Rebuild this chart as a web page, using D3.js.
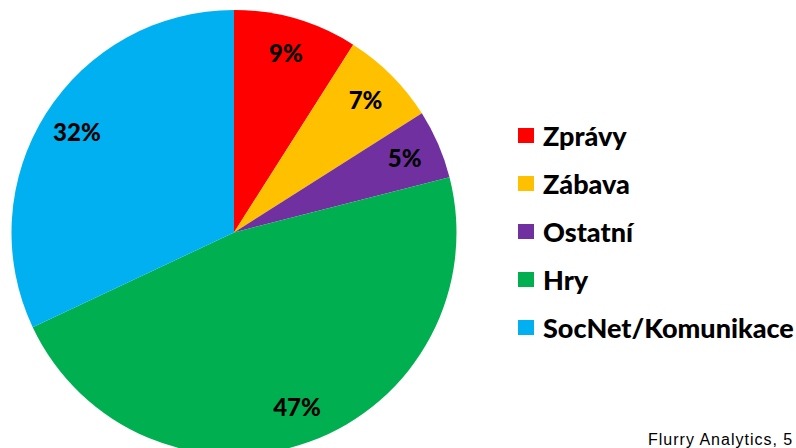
<!DOCTYPE html>
<meta charset="utf-8">
<title>Kategorie aplikací</title>
<style>
  body { margin: 0; background: #fff; }
  svg { display: block; }
</style>
<div id="viz"></div>
<script src="https://cdnjs.cloudflare.com/ajax/libs/d3/7.8.5/d3.min.js"></script>
<script>

var categories = ["Zprávy", "Zábava", "Ostatní", "Hry", "SocNet/Komunikace"];
var shares = [9, 7, 5, 47, 32];
var colors = ["#ff0000", "#ffc000", "#7030a0", "#00b050", "#00b0f0"];
var source = "Flurry Analytics, 5";

var width = 796;
var height = 448;

var svg = d3.select("#viz")
  .append("svg")
  .attr("width", width)
  .attr("height", height);

var data = categories.map(function(c, i) {
  return { name: c, value: shares[i], color: colors[i] };
});

var radius = 222.5;
var pie = d3.pie().sort(null).value(function(d) { return d.value; });
var arc = d3.arc().innerRadius(0).outerRadius(radius);
// centroid of this arc sits at radius 186
var labelArc = d3.arc().innerRadius(186).outerRadius(186);

var g = svg.append("g").attr("transform", "translate(234,232.5)");

var slices = g.selectAll(".slice")
  .data(pie(data))
  .enter().append("g")
  .attr("class", "slice");

slices.append("path")
  .attr("d", arc)
  .attr("fill", function(d) { return d.data.color; });

slices.append("text")
  .attr("transform", function(d) {
    var c = labelArc.centroid(d);
    return "translate(" + c[0] + "," + c[1] + ")";
  })
  .attr("text-anchor", "middle")
  .attr("dy", "0.35em")
  .style("font-family", "Lato, 'Open Sans', sans-serif")
  .style("font-weight", "900")
  .style("font-size", "24px")
  .text(function(d) { return d.data.value + "%"; });

// legend
var legend = svg.append("g").attr("transform", "translate(518,0)");
var rowY = d3.scaleBand().domain(categories).range([112, 352]);

var rows = legend.selectAll(".row")
  .data(data)
  .enter().append("g")
  .attr("transform", function(d) {
    return "translate(0," + (rowY(d.name) + rowY.bandwidth() / 2) + ")";
  });

rows.append("rect")
  .attr("x", 0)
  .attr("y", -8)
  .attr("width", 16)
  .attr("height", 15)
  .attr("fill", function(d) { return d.color; });

rows.append("text")
  .attr("x", 25)
  .attr("dy", "0.36em")
  .style("font-family", "Lato, 'Open Sans', sans-serif")
  .style("font-weight", "900")
  .style("font-size", "27px")
  .text(function(d) { return d.name; });

svg.append("text")
  .attr("x", 648)
  .attr("y", 445)
  .style("font-family", "'Liberation Sans', Arial, sans-serif")
  .style("font-size", "16px")
  .style("letter-spacing", "1px")
  .text(source);

</script>
